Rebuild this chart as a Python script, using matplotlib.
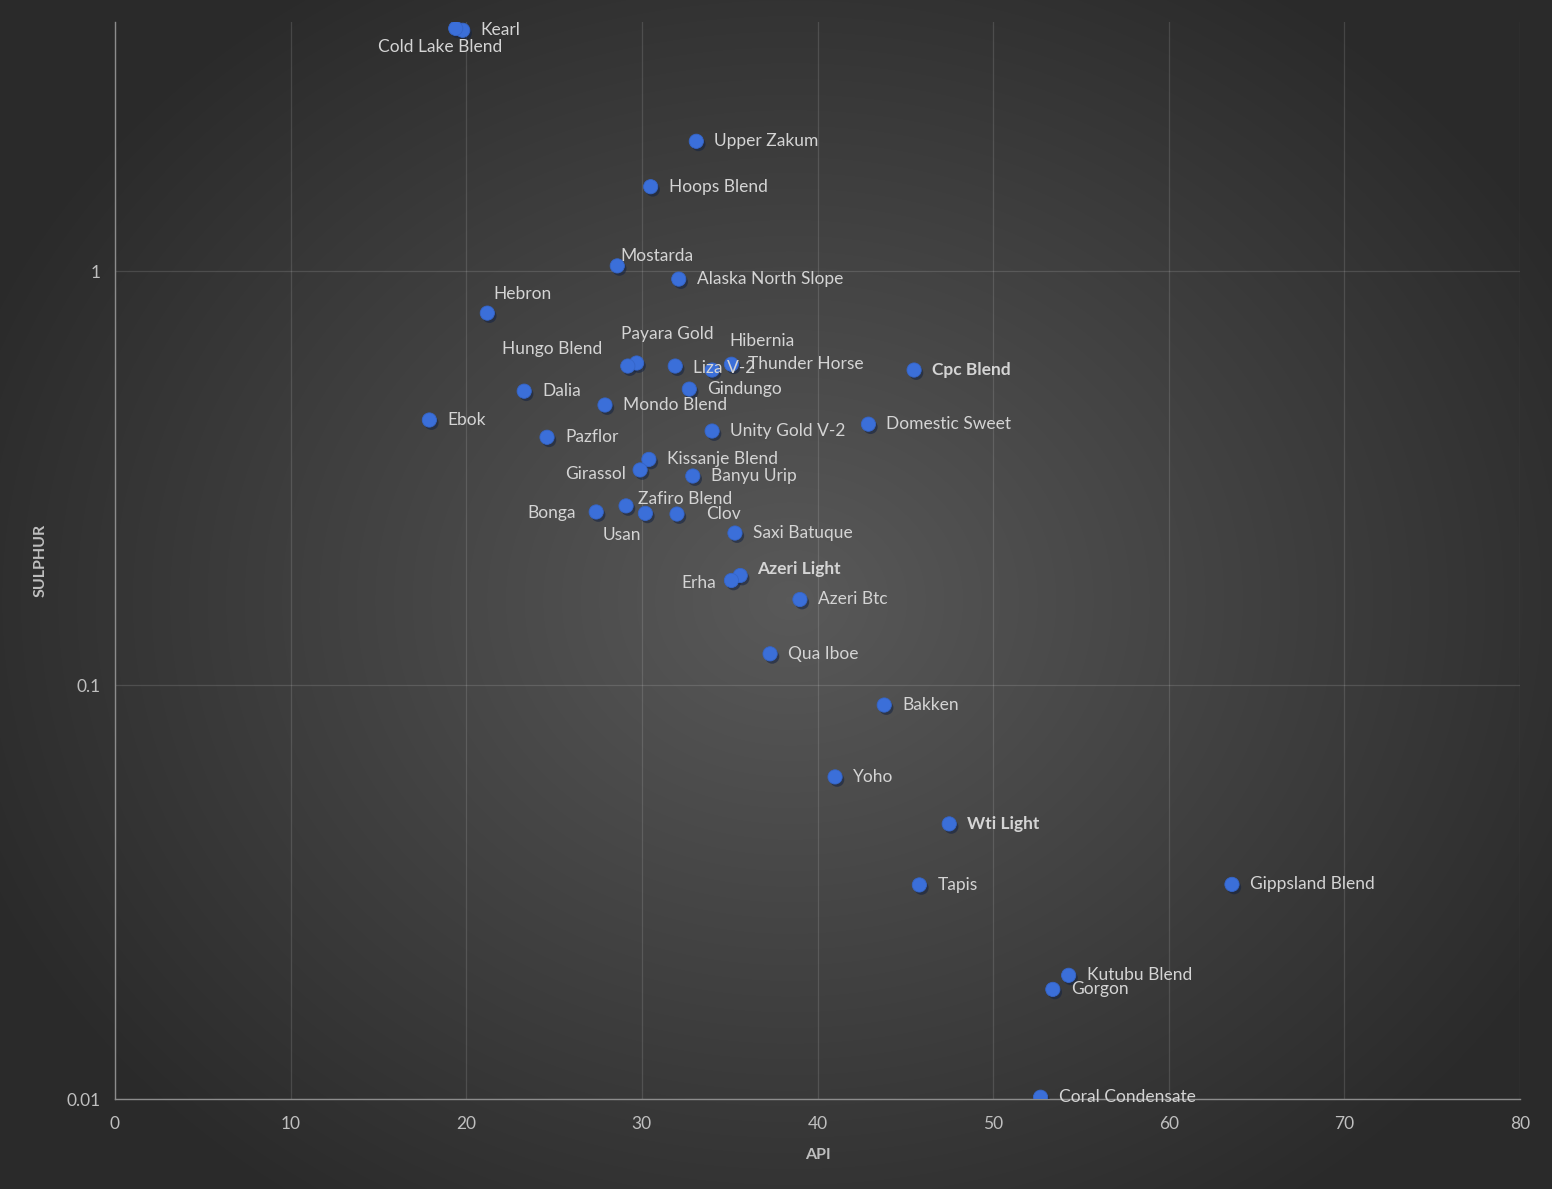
import matplotlib
matplotlib.use("Agg")
import matplotlib.pyplot as plt
import matplotlib.patheffects as pe
import numpy as np

plt.rcParams['font.family'] = ['Lato', 'DejaVu Sans']

# crude names, API gravity and sulphur content
names = ["Kearl", "Cold Lake Blend", "Upper Zakum", "Hoops Blend", "Mostarda",
         "Alaska North Slope", "Hebron", "Payara Gold", "Hungo Blend", "Liza V-2",
         "Hibernia", "Thunder Horse", "Cpc Blend", "Gindungo", "Dalia",
         "Mondo Blend", "Ebok", "Domestic Sweet", "Unity Gold V-2", "Pazflor",
         "Kissanje Blend", "Girassol", "Banyu Urip", "Zafiro Blend", "Bonga",
         "Usan", "Clov", "Saxi Batuque", "Azeri Light", "Erha",
         "Azeri Btc", "Qua Iboe", "Bakken", "Yoho", "Wti Light",
         "Tapis", "Gippsland Blend", "Kutubu Blend", "Gorgon", "Coral Condensate"]
api = [19.8, 19.4, 33.1, 30.5, 28.6,
       32.1, 21.2, 29.7, 29.2, 31.9,
       35.1, 34.0, 45.5, 32.7, 23.3,
       27.9, 17.9, 42.9, 34.0, 24.6,
       30.4, 29.9, 32.9, 29.1, 27.4,
       30.2, 32.0, 35.3, 35.6, 35.1,
       39.0, 37.3, 43.8, 41.0, 47.5,
       45.8, 63.6, 54.3, 53.4, 52.7]
sulphur = [3.82, 3.86, 2.06, 1.60, 1.03,
           0.957, 0.792, 0.600, 0.590, 0.590,
           0.596, 0.577, 0.577, 0.519, 0.513,
           0.475, 0.437, 0.427, 0.411, 0.397,
           0.351, 0.331, 0.320, 0.271, 0.262,
           0.260, 0.259, 0.233, 0.184, 0.179,
           0.161, 0.119, 0.0895, 0.060, 0.0462,
           0.0329, 0.0330, 0.0199, 0.0184, 0.0101]
bold_names = ["Cpc Blend", "Azeri Light", "Wti Light"]

# label placement in pixels (dx, dy, ha), default is right of the point
label_pos = {
    "Cold Lake Blend": (47, -19, "right"),
    "Mostarda": (3, 10, "left"),
    "Hebron": (6, 19, "left"),
    "Payara Gold": (-16, 29, "left"),
    "Hungo Blend": (-26, 17, "right"),
    "Hibernia": (-2, 23, "left"),
    "Thunder Horse": (36, 6, "left"),
    "Girassol": (-14, -4, "right"),
    "Zafiro Blend": (12, 7, "left"),
    "Bonga": (-20, -1, "right"),
    "Usan": (-4, -22, "right"),
    "Clov": (29, 0, "left"),
    "Azeri Light": (17, 6, "left"),
    "Erha": (-15, -3, "right"),
    "Liza V-2": (18, -2, "left"),
}

W, H = 1552, 1189
fig = plt.figure(figsize=(W / 100, H / 100), dpi=100)

# radial gradient background
bg = fig.add_axes([0, 0, 1, 1], zorder=-10)
yy, xx = np.mgrid[0:H, 0:W]
r = np.sqrt(((xx - 790) / 880.0) ** 2 + ((yy - 600) / 740.0) ** 2)
r = np.clip(r, 0, 1)
shade = 0.165 + 0.185 * (1 - r)
bg.imshow(np.dstack([shade, shade, shade]), aspect="auto", extent=[0, 1, 0, 1])
bg.axis("off")

ax = fig.add_axes([115 / W, 1 - 1099 / H, (1520 - 115) / W, (1099 - 22) / H])
ax.set_facecolor("none")
ax.set_yscale("log")
ax.set_xlim(0, 80)
ax.set_ylim(0.01, 4)
ax.set_xticks(range(0, 81, 10))
ax.set_yticks([0.01, 0.1, 1])
ax.set_yticklabels(["0.01", "0.1", "1"])
ax.yaxis.set_minor_locator(matplotlib.ticker.NullLocator())
ax.grid(True, color="white", alpha=0.13, linewidth=0.9)
ax.set_axisbelow(True)
ax.tick_params(length=0, colors="#bfbfbf", labelsize=12.5, pad=10)
ax.tick_params(axis="x", pad=12)
for side in ["top", "right"]:
    ax.spines[side].set_visible(False)
for side in ["left", "bottom"]:
    ax.spines[side].set_color("#8c8c8c")
    ax.spines[side].set_linewidth(1.0)

ax.set_xlabel("API", color="#bfbfbf", fontsize=11.5, fontweight="bold", labelpad=12)
ax.set_ylabel("SULPHUR", color="#bfbfbf", fontsize=11.5, fontweight="bold")
ax.yaxis.set_label_coords(-0.048, 0.5)

ax.scatter(api, sulphur, s=105, color="#3b6fd9", edgecolors="#3565c8", linewidths=0.6,
           zorder=3, path_effects=[pe.SimplePatchShadow(offset=(1.5, -2), alpha=0.55),
                                   pe.Normal()])

for n, x, y in zip(names, api, sulphur):
    dx, dy, ha = label_pos.get(n, (18, 0, "left"))
    ax.annotate(n, (x, y), xytext=(dx, dy), textcoords="offset pixels",
                ha=ha, va="center", fontsize=12.5, color="#d4d4d4",
                fontweight="bold" if n in bold_names else "normal", zorder=4)

fig.savefig("out.png", dpi=100)
